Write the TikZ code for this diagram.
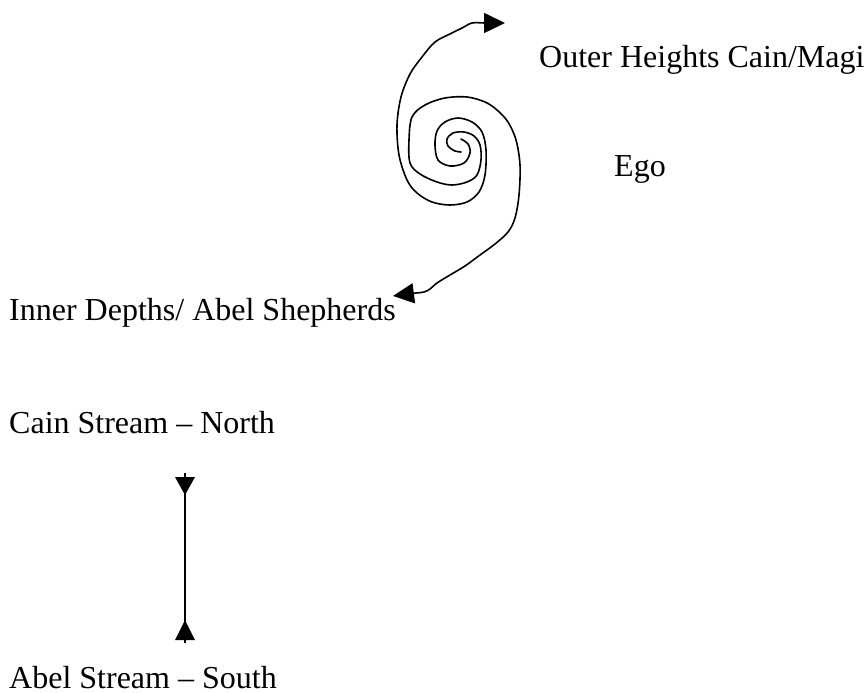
\documentclass[tikz,border=0pt]{standalone}
\usepackage{fontspec}
\setmainfont{Liberation Serif}
\usetikzlibrary{arrows.meta}
\begin{document}
\begin{tikzpicture}[x=1bp,y=-1bp,
  caption/.style={font=\fontsize{32bp}{38bp}\selectfont, inner sep=0pt, anchor=base west},
  curve/.style={line width=1.6bp, line join=round, line cap=round},
  headtip/.style={-{Triangle[length=21bp,width=20bp]}}]
\useasboundingbox (0,0) rectangle (864,693);

% labels
\node[caption] (outer) at (539,68)  {Outer Heights Cain/Magi};
\node[caption] (ego)   at (614,176) {Ego};
\node[caption] (inner) at (9,320)   {Inner Depths/ Abel Shepherds};
\node[caption] (north) at (9,433)   {Cain Stream – North};
\node[caption] (south) at (9,688)   {Abel Stream – South};

% double spiral: the arm that winds out to the top
\coordinate (outerTip) at (505,23);
\draw[curve,headtip] plot[smooth,tension=0.55] coordinates {
  (461,139) (468,144) (470,153) (464,163) (450,166) (438,160) (435,145)
  (437,131) (445,122) (458,118) (472,122) (482,132) (486,150) (485,175)
  (479,192) (467,202) (450,205) (432,202) (417,193) (407,180) (399,155)
  (397,125) (401,97) (410,74) (422,57) (435,42) (450,34) (462,28) (472,23) (484,23)}
  -- (outerTip);

% double spiral: the arm that winds out to the bottom
\coordinate (innerTip) at (393,296);
\draw[curve,headtip] plot[smooth,tension=0.55] coordinates {
  (461,152) (455,151) (448,146) (447,139) (453,133) (464,132) (474,136)
  (480,145) (481,160) (477,175) (467,182) (452,185) (437,182) (420,174)
  (410,163) (409,140) (412,117) (425,105) (445,98) (467,97) (485,102)
  (497,110) (508,122) (516,140) (520,165) (519,195) (515,218) (508,232)
  (495,244) (480,255) (465,266) (450,275) (437,283) (430,289) (424,292) (416,293)}
  -- (innerTip);

% north-south stream with inward-pointing heads
\coordinate (northEnd) at (185,473);
\coordinate (southEnd) at (185,643);
\draw[line width=1.4bp] (northEnd) -- (southEnd);
\fill (northEnd) ++(-10,4) -- ++(20,0) -- ++(-10,18) -- cycle;
\fill (southEnd) ++(-10,-3) -- ++(20,0) -- ++(-10,-20) -- cycle;
\end{tikzpicture}
\end{document}
